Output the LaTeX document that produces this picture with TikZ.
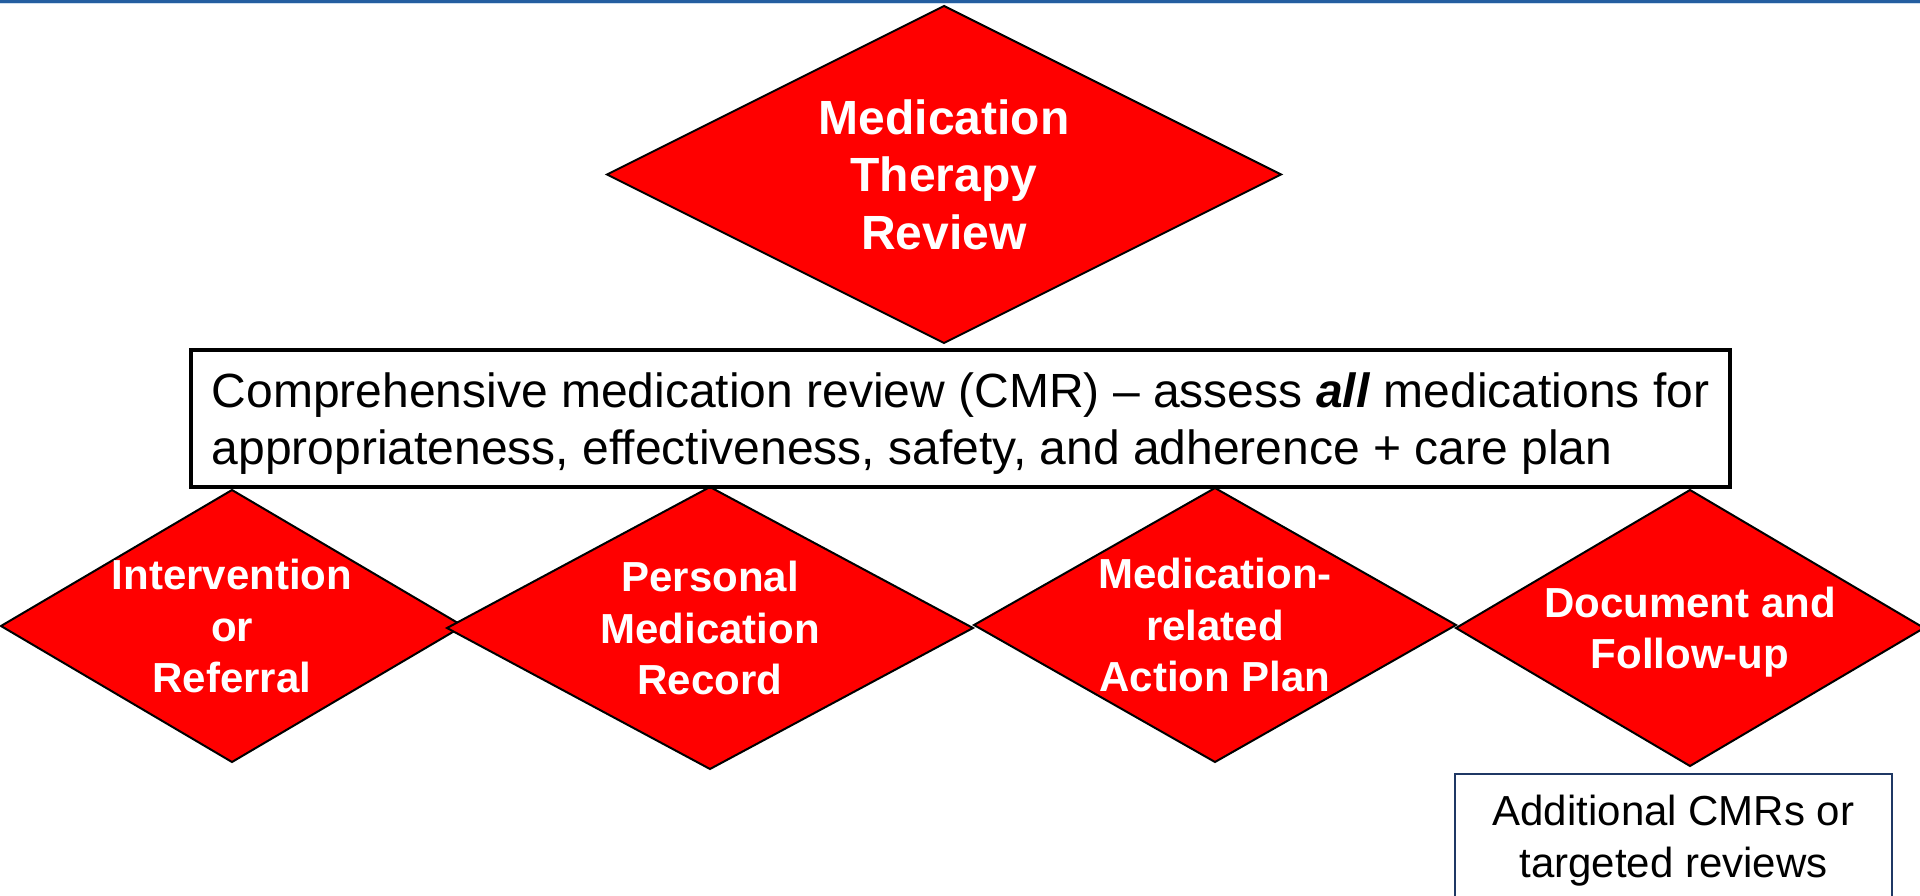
\documentclass[tikz,border=0pt]{standalone}
\usepackage{fontspec}
\setmainfont{Liberation Sans}
\usetikzlibrary{shapes.geometric}
\definecolor{redfill}{RGB}{255,0,0}
\definecolor{barblue}{RGB}{36,94,160}
\definecolor{barlight}{RGB}{205,222,240}
\definecolor{navy}{RGB}{31,56,100}
\begin{document}
\begin{tikzpicture}[x=1pt,y=-1pt,
  dia/.style={shape=diamond, draw=black, line width=2pt, fill=redfill, inner sep=0pt, outer sep=0pt},
  dtext/.style={text=white, font=\bfseries\fontsize{42}{51.5}\selectfont, align=center, inner sep=0pt},
  toptext/.style={text=white, font=\bfseries\fontsize{48}{57.5}\selectfont, align=center, inner sep=0pt},
  cmrbox/.style={draw=black, line width=4pt, fill=white, align=left, inner sep=0pt, text depth=0pt,
    font=\fontsize{48}{57.5}\selectfont},
  addbox/.style={draw=navy, line width=2pt, fill=white, align=center, inner sep=0pt, text depth=0pt,
    font=\fontsize{42}{52}\selectfont}]
\useasboundingbox (0,0) rectangle (1920,896);
\fill[barblue] (0,0) rectangle (1920,3);
\fill[barlight] (0,3) rectangle (1920,4.5);

% top diamond
\node[dia, minimum width=674pt, minimum height=337pt] (mtr) at (944,174.5) {};
\node[toptext] (mtrtext) at (mtr.center) {Medication\\Therapy\\Review};

% bottom diamonds
\node[dia, minimum width=462pt, minimum height=272pt] (d1) at (232,626) {};
\node[dia, minimum width=526pt, minimum height=282pt] (d2) at (710,628) {};
\node[dia, minimum width=482pt, minimum height=274pt] (d3) at (1215,625) {};
\node[dia, minimum width=468pt, minimum height=276pt] (d4) at (1690,628) {};

\node[dtext] (t1) at (d1.center) {Intervention\\or\\Referral};
\node[dtext] (t2) at (d2.center) {Personal\\Medication\\Record};
\node[dtext] (t3) at (d3.center) {Medication-\\related\\Action Plan};
\node[dtext, text depth=0pt] (t4) at (d4.center) {Document and\\Follow-up};

% CMR box
\node[cmrbox, minimum width=1539pt, minimum height=137pt] (cmr) at (960.5,418.5)
  {Comprehensive medication review (CMR) – assess \textbf{\textit{all}} medications for\\
   appropriateness, effectiveness, safety, and adherence + care plan};

% additional box
\node[addbox, minimum width=437pt, minimum height=124pt] (add) at (1673.5,836)
  {Additional CMRs or\\targeted reviews};
\end{tikzpicture}
\end{document}
